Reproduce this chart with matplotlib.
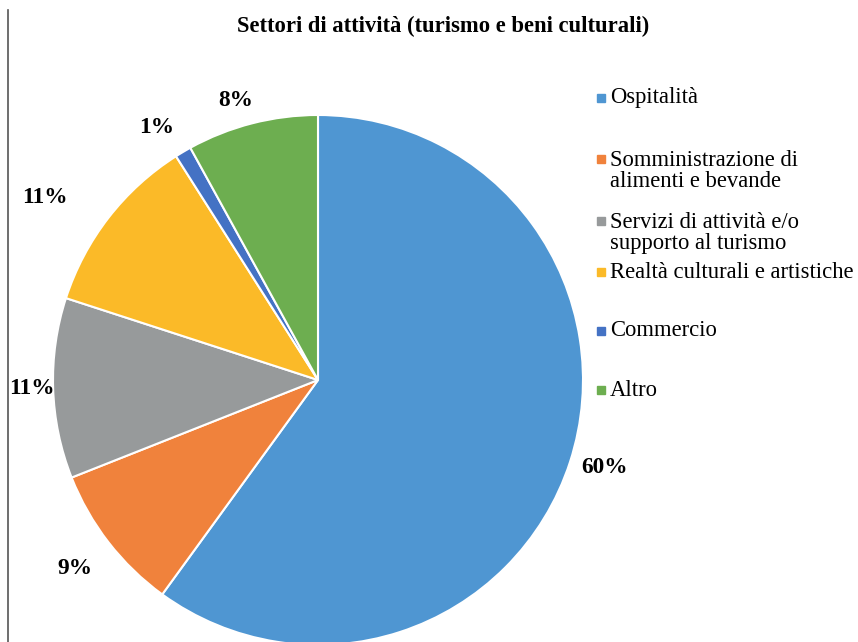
import numpy as np
import matplotlib.pyplot as plt
from matplotlib.patches import Rectangle
from matplotlib.lines import Line2D

# Dati
settori = ['Ospitalità', 'Somministrazione di\nalimenti e bevande',
           'Servizi di attività e/o\nsupporto al turismo',
           'Realtà culturali e artistiche', 'Commercio', 'Altro']
percentuali = [60, 9, 11, 11, 1, 8]
colori = ['#4F96D2', '#F0823C', '#979A9B', '#FBBA28', '#4472C4', '#6DAE50']

plt.rcParams['font.family'] = ['Liberation Serif', 'DejaVu Serif']

W, H = 858, 642
fig = plt.figure(figsize=(W / 100, H / 100), dpi=100)

# Torta (centro ~ (318, 380) px, raggio ~265 px)
cx, cy, r = 318, 380, 265
ax = fig.add_axes([(cx - r) / W, (H - cy - r) / H, 2 * r / W, 2 * r / H])
wedges, testi, pct = ax.pie(percentuali, colors=colori, startangle=90, counterclock=False,
                            autopct='%1.0f%%', pctdistance=1.14,
                            wedgeprops=dict(edgecolor='white', linewidth=1.5),
                            textprops=dict(fontsize=16.8, fontweight='bold', color='black'))
ax.set_xlim(-1, 1)
ax.set_ylim(-1, 1)
ax.set_aspect('equal')

# distanza e spostamento angolare delle etichette (stile Excel "estremità esterna")
distanze = [1.13, 1.16, 1.08, 1.24, 1.13, 1.10]
scarti = [1, 0, 0, 4, 2, 2]
for w, t, d, s in zip(wedges, pct, distanze, scarti):
    ang = np.deg2rad((w.theta1 + w.theta2) / 2 + s)
    t.set_position((d * np.cos(ang), d * np.sin(ang)))
    t.set_clip_on(False)
for w in wedges:
    w.set_clip_on(False)

# Titolo
fig.text(443 / W, 1 - 26 / H, 'Settori di attività (turismo e beni culturali)',
         ha='center', va='center', fontsize=16.3, fontweight='bold')

# Legenda manuale (y della prima riga di ogni voce, in pixel)
y_legenda = [98, 159, 221, 272, 331, 390]
for lab, col, y in zip(settori, colori, y_legenda):
    fig.patches.append(Rectangle((597 / W, 1 - (y + 4) / H), 8 / W, 8 / H,
                                 transform=fig.transFigure, color=col))
    n = lab.count('\n')
    fig.text(610 / W, 1 - (y + 12 * n) / H, lab, ha='left', va='center',
             fontsize=16.3, linespacing=1.0)

# Bordo sinistro
fig.add_artist(Line2D([8 / W, 8 / W], [0, 1 - 10 / H], color='#555555', linewidth=1.2))

fig.savefig('out.png', dpi=100)
